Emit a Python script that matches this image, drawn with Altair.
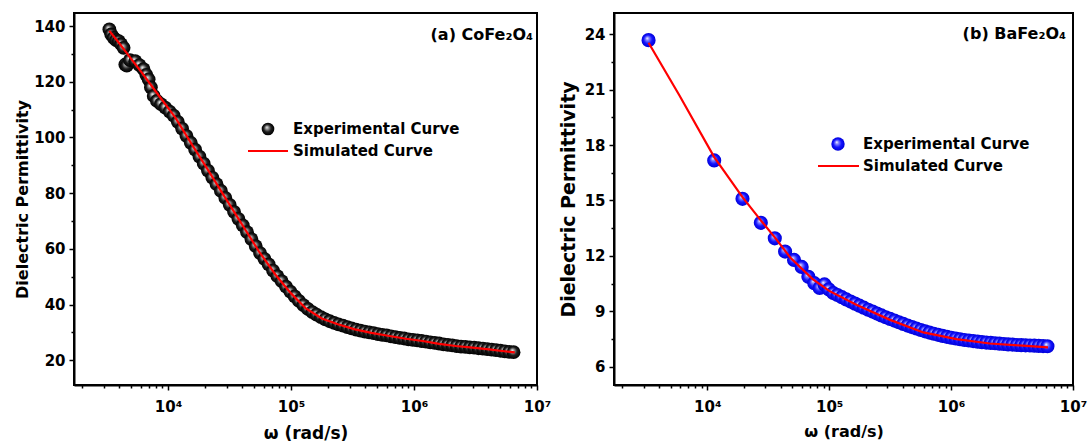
import altair as alt
import pandas as pd

FONT = "DejaVu Sans"

# ---------------- data: panel (a) CoFe2O4 ----------------
co_exp_omega = [3330, 3450, 3610, 3780, 3970, 4150, 4350, 4490, 4620, 4900, 5410, 5850,
                6320, 6650, 6950, 7250, 7640, 8120, 8750, 9490,
                10300, 11100, 12000, 13000, 14100, 15300, 16600, 18000, 19500, 21100,
                22900, 24800, 26900, 29200, 31700, 34400, 37300, 40500, 43900, 47600,
                51600, 56000, 60700, 65800, 71400, 77400, 83900, 91000, 98700, 107000,
                116000, 126000, 137000, 149000, 161000, 175000, 190000, 206000, 224000, 243000,
                264000, 287000, 311000, 338000, 367000, 398000, 432000, 469000, 509000, 552000,
                599000, 650000, 706000, 766000, 831000, 902000, 979000, 1062000, 1153000, 1251000,
                1358000, 1474000, 1600000, 1737000, 1885000, 2046000, 2221000, 2411000, 2617000, 2840000,
                3083000, 3346000, 3632000, 3942000, 4279000, 4644000, 5041000, 5472000, 5939000, 6446000]
co_exp_eps = [138.8, 137.0, 135.8, 135.0, 134.6, 133.5, 132.2, 126.2, 125.8, 127.8, 127.4, 126.0,
              124.5, 122.5, 120.9, 118.0, 114.9, 113.1, 112.0, 110.7,
              109.3, 107.8, 105.6, 103.2, 100.6, 98.1, 95.6, 93.1, 90.6, 88.1,
              85.6, 83.2, 80.8, 78.3, 75.8, 73.3, 70.8, 68.4, 66.0, 63.5,
              61.0, 58.5, 56.4, 54.4, 52.2, 50.2, 48.4, 46.4, 44.6, 42.9,
              41.3, 39.8, 38.4, 37.3, 36.4, 35.5, 34.7, 34.0, 33.4, 32.9,
              32.4, 31.9, 31.4, 31.0, 30.6, 30.3, 30.0, 29.7, 29.4, 29.1,
              28.9, 28.6, 28.3, 28.0, 27.8, 27.5, 27.3, 27.1, 26.9, 26.7,
              26.4, 26.2, 26.0, 25.7, 25.5, 25.3, 25.1, 24.9, 24.8, 24.6,
              24.5, 24.3, 24.2, 24.0, 23.8, 23.6, 23.4, 23.2, 23.0, 22.9]
co_sim_omega = [3330, 3980, 5010, 6140, 7940, 10000, 11460, 15600, 21400, 29200, 39900,
                54600, 74500, 100000, 132000, 178000, 240000, 331000, 450000, 631000,
                860000, 1175000, 1600000, 2188000, 3000000, 4070000, 5200000, 6600000]
co_sim_eps = [138.3, 134.0, 128.2, 123.2, 116.5, 110.6, 107.1, 97.5, 87.9, 78.3, 68.8,
              59.2, 50.8, 44.0, 38.6, 35.0, 32.9, 31.1, 29.8, 28.7,
              27.7, 26.9, 25.9, 25.1, 24.5, 23.9, 23.3, 22.8]

# ---------------- data: panel (b) BaFe2O4 ----------------
ba_exp_omega = [3300, 11400, 19450, 27500, 35800, 43500, 51500, 59500, 67500, 75500,
                83500, 91500, 99500, 108000, 117000, 127000, 138000, 150000, 163000, 177000,
                192000, 209000, 227000, 247000, 268000, 291000, 316000, 343000, 373000, 405000,
                440000, 478000, 519000, 564000, 612000, 665000, 722000, 784000, 852000, 925000,
                1005000, 1091000, 1185000, 1287000, 1398000, 1518000, 1649000, 1790000, 1944000, 2112000,
                2293000, 2490000, 2705000, 2937000, 3190000, 3464000, 3762000, 4085000, 4437000, 4818000,
                5233000, 5683000, 6171000]
ba_exp_eps = [23.69, 17.17, 15.09, 13.79, 12.95, 12.23, 11.78, 11.40, 10.86, 10.52,
              10.26, 10.45, 10.18, 9.98, 9.88, 9.76, 9.64, 9.52, 9.41, 9.30,
              9.19, 9.08, 8.98, 8.87, 8.77, 8.67, 8.58, 8.49, 8.40, 8.31,
              8.22, 8.14, 8.06, 7.98, 7.91, 7.84, 7.78, 7.72, 7.66, 7.61,
              7.56, 7.52, 7.48, 7.44, 7.41, 7.38, 7.35, 7.32, 7.30, 7.28,
              7.26, 7.24, 7.22, 7.20, 7.19, 7.17, 7.16, 7.15, 7.14, 7.13,
              7.12, 7.11, 7.10]
ba_sim_omega = [3300, 5900, 11400, 19450, 27500, 35800, 48100, 72800, 100000, 168700,
                316000, 592000, 1109000, 2080000, 3890000, 6240000]
ba_sim_eps = [23.55, 20.7, 17.35, 15.18, 13.92, 13.0, 11.9, 10.75, 10.1, 9.34,
              8.53, 7.85, 7.49, 7.25, 7.13, 7.04]

# ---------------- axes / labels ----------------
x_domain = [1718, 10000000]
x_major = [10000, 100000, 1000000, 10000000]
x_major_labels = ["10⁴", "10⁵", "10⁶", "10⁷"]
x_minor = [2000, 3000, 4000, 5000, 6000, 7000, 8000, 9000,
           20000, 30000, 40000, 50000, 60000, 70000, 80000, 90000,
           200000, 300000, 400000, 500000, 600000, 700000, 800000, 900000,
           2000000, 3000000, 4000000, 5000000, 6000000, 7000000, 8000000, 9000000]
co_y_domain = [11.1, 144.7]
co_y_major = [20, 40, 60, 80, 100, 120, 140]
co_y_minor = [30, 50, 70, 90, 110, 130]
ba_y_domain = [5, 25.16]
ba_y_major = [6, 9, 12, 15, 18, 21, 24]
ba_y_minor = [7.5, 10.5, 13.5, 16.5, 19.5, 22.5]

legend_labels = ["Experimental Curve", "Simulated Curve"]
panel_labels = ["(a) CoFe₂O₄", "(b) BaFe₂O₄"]
x_title = "ω (rad/s)"
y_title = "Dielectric Permittivity"

label_expr = "''"
for v, lab in reversed(list(zip(x_major, x_major_labels))):
    label_expr = f"datum.value == {v} ? '{lab}' : ({label_expr})"


def sphere(c_light, c_mid, c_dark):
    return {"gradient": "radial", "x1": 0.4, "y1": 0.36, "r1": 0, "x2": 0.5, "y2": 0.5, "r2": 0.5,
            "stops": [{"offset": 0, "color": "#ffffff"},
                      {"offset": 0.22, "color": c_light},
                      {"offset": 0.6, "color": c_mid},
                      {"offset": 1, "color": c_dark}]}


black_sphere = sphere("#a0a0a0", "#1c1c1c", "#000000")
blue_sphere = sphere("#8c8cff", "#1414ff", "#0000d8")


def panel(exp_w, exp_v, sim_w, sim_v, y_dom, y_major, y_minor, width, height, grad, msize,
          label, label_y, y_title_size, y_title_pad, x_title_size, x_title_pad, leg):
    exp_df = pd.DataFrame({"omega": exp_w, "eps": exp_v})
    sim_df = pd.DataFrame({"omega": sim_w, "eps": sim_v})
    xs = alt.Scale(type="log", domain=x_domain, nice=False)
    ys = alt.Scale(domain=y_dom, nice=False, zero=False)

    pts = alt.Chart(exp_df).mark_circle(size=msize, fill=grad, opacity=1, strokeWidth=0).encode(
        x=alt.X("omega:Q", scale=xs, title=None,
                axis=alt.Axis(values=x_minor, labels=False, domain=False, tickSize=3, grid=False,
                              orient="bottom")),
        y=alt.Y("eps:Q", scale=ys, title=None,
                axis=alt.Axis(values=y_minor, labels=False, domain=False, tickSize=3, grid=False,
                              orient="left")),
    )
    line = alt.Chart(sim_df).mark_line(color="#ff0000", strokeWidth=2.2).encode(
        x=alt.X("omega:Q", scale=xs, title=x_title,
                axis=alt.Axis(values=x_major, labelExpr=label_expr, tickSize=5, labelPadding=9,
                              titlePadding=x_title_pad, titleFontSize=x_title_size, labelFlush=False,
                              labelOverlap=False, orient="bottom")),
        y=alt.Y("eps:Q", scale=ys, title=y_title,
                axis=alt.Axis(values=y_major, tickSize=5, labelPadding=4, titlePadding=y_title_pad,
                              titleFontSize=y_title_size, labelOverlap=False, orient="left")),
    )
    d1 = pd.DataFrame({"t": [legend_labels[0]]})
    d2 = pd.DataFrame({"t": [legend_labels[1]]})
    d3 = pd.DataFrame({"t": [label]})
    leg_sym = alt.Chart(d1).mark_circle(size=leg["ss"], fill=grad, opacity=1, strokeWidth=0).encode(
        x=alt.value(leg["sx"]), y=alt.value(leg["sy"]))
    leg_t1 = alt.Chart(d1).mark_text(align="left", baseline="middle", fontSize=15, fontWeight="bold",
                                     font=FONT, color="black").encode(
        text="t:N", x=alt.value(leg["tx"]), y=alt.value(leg["sy"]))
    leg_line = alt.Chart(d2).mark_rule(color="#ff0000", strokeWidth=2).encode(
        x=alt.value(leg["lx1"]), x2=alt.value(leg["lx2"]), y=alt.value(leg["ly"]))
    leg_t2 = alt.Chart(d2).mark_text(align="left", baseline="middle", fontSize=15, fontWeight="bold",
                                     font=FONT, color="black").encode(
        text="t:N", x=alt.value(leg["tx"]), y=alt.value(leg["ly"]))
    lab = alt.Chart(d3).mark_text(align="right", baseline="middle", fontSize=16, fontWeight="bold",
                                  font=FONT, color="black").encode(
        text="t:N", x=alt.value(leg["px"]), y=alt.value(label_y))
    return alt.layer(pts, line, leg_sym, leg_t1, leg_line, leg_t2, lab).resolve_axis(
        x="independent", y="independent").properties(width=width, height=height)


left = panel(co_exp_omega, co_exp_eps, co_sim_omega, co_sim_eps, co_y_domain, co_y_major, co_y_minor,
             463, 372, black_sphere, 190, panel_labels[0], 22, 16, 3, 17, 11,
             {"ss": 160, "sx": 194, "sy": 116, "tx": 219, "lx1": 174, "lx2": 214, "ly": 138, "px": 459})
right = panel(ba_exp_omega, ba_exp_eps, ba_sim_omega, ba_sim_eps, ba_y_domain, ba_y_major, ba_y_minor,
              459, 372, blue_sphere, 200, panel_labels[1], 21, 19, 6, 16, 9,
              {"ss": 180, "sx": 224, "sy": 131, "tx": 249, "lx1": 204, "lx2": 245, "ly": 153, "px": 452})

chart = alt.hconcat(left, right, spacing=6).properties(
    padding={"left": 13, "top": 12, "right": 0, "bottom": 0},
    background="white",
).configure_view(stroke="black", strokeWidth=2).configure_axis(
    labelFont=FONT, titleFont=FONT, labelFontWeight="bold", titleFontWeight="bold",
    labelColor="black", titleColor="black", domainColor="black", tickColor="black",
    domainWidth=2, tickWidth=1.5, labelFontSize=15, grid=False,
)

chart.save("out.html", embed_options={"renderer": "svg", "actions": False})
